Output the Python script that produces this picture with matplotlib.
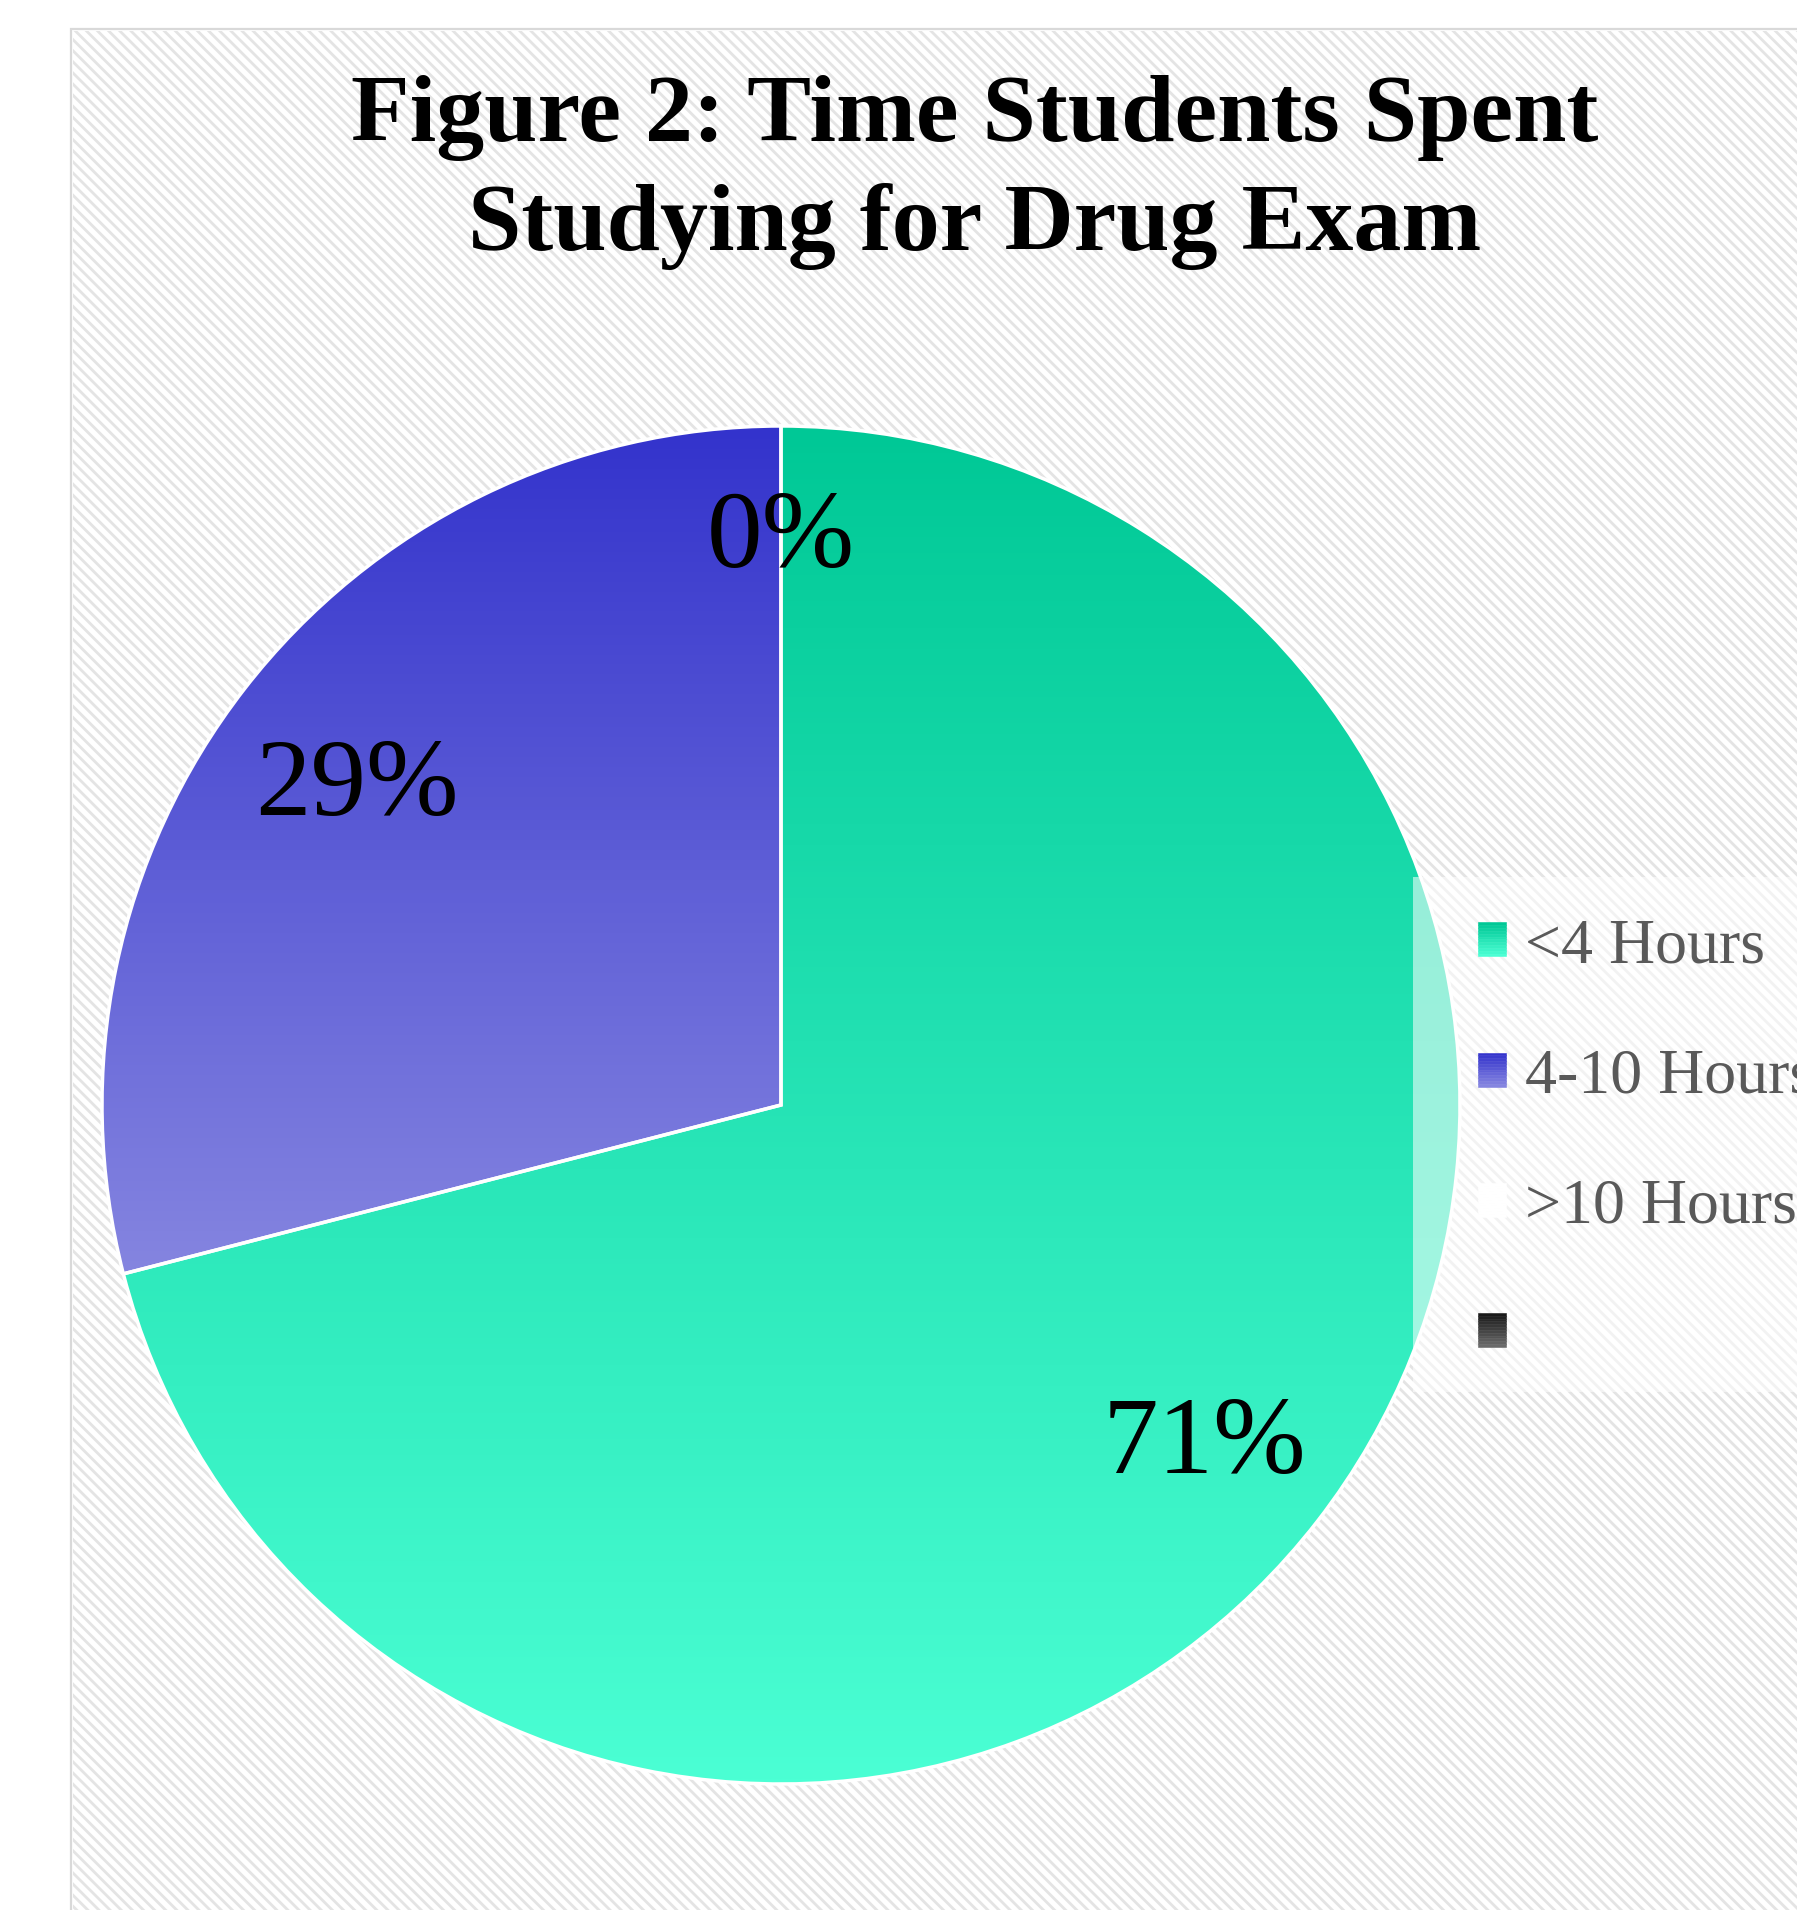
import numpy as np
import matplotlib
matplotlib.use("agg")
import matplotlib.pyplot as plt
from matplotlib.colors import LinearSegmentedColormap
from matplotlib.patches import Rectangle
from matplotlib.legend_handler import HandlerBase
from matplotlib.transforms import ScaledTranslation

# data
labels = ['<4 Hours', '4-10 Hours', '>10 Hours', ' ']
values = [71, 29, 0]
# gradient colours per category (top -> bottom)
top_colors = ['#00C896', '#3333CC', '#FFFFFF', '#1A1A1A']
bottom_colors = ['#4BFFD4', '#8585E0', '#FFFFFF', '#6A6A6A']

plt.rcParams['font.family'] = ['Liberation Serif', 'DejaVu Serif']
plt.rcParams['hatch.linewidth'] = 2.0

W, H = 1797, 1910


def fx(px):
    return px / W


def fy(py):
    return 1 - py / H


class GradientKey:
    def __init__(self, top, bottom):
        self.top = top
        self.bottom = bottom


class GradientHandler(HandlerBase):
    def create_artists(self, legend, orig_handle, xdescent, ydescent,
                       width, height, fontsize, trans):
        cmap = LinearSegmentedColormap.from_list('k', [orig_handle.top, orig_handle.bottom])
        n = 12
        arts = []
        for i in range(n):
            c = cmap(i / (n - 1))
            r = Rectangle((-xdescent, -ydescent + height * (1 - (i + 1) / n)),
                          width, height / n, facecolor=c, edgecolor=c,
                          linewidth=0.4, transform=trans)
            arts.append(r)
        return arts


fig = plt.figure(figsize=(W / 100, H / 100), dpi=100)

# chart area with diagonal hatch
area = Rectangle((fx(71), -0.01), 1.0, fy(29) + 0.01, transform=fig.transFigure,
                 facecolor='white', edgecolor='#d9d9d9', linewidth=1.6, zorder=-2)
fig.add_artist(area)
hatch = Rectangle((fx(73), -0.01), 1.0, fy(31) + 0.01, transform=fig.transFigure,
                  facecolor='none', edgecolor='#e4e4e4', linewidth=0,
                  hatch='\\\\\\', zorder=-1)
fig.add_artist(hatch)

# pie: centre (781, 1105) px, radius 679 px
lim = 1.02
side = 679 * lim
ax = fig.add_axes([fx(781 - side), fy(1105 + side), 2 * side / W, 2 * side / H])
wedges, texts, autotexts = ax.pie(values, startangle=90, counterclock=False,
                                  autopct='%1.0f%%', pctdistance=0.79,
                                  wedgeprops=dict(edgecolor='white', linewidth=2.5),
                                  textprops=dict(fontsize=80, color='black'))

grad = np.linspace(0, 1, 256).reshape(-1, 1)
for w, v, ct, cb in zip(wedges, values, top_colors, bottom_colors):
    if v == 0:
        continue
    ext = w.get_path().get_extents()
    cmap = LinearSegmentedColormap.from_list('g', [ct, cb])
    im = ax.imshow(grad, cmap=cmap, extent=(-1, 1, ext.y0, ext.y1),
                   aspect='auto', origin='upper', zorder=1.5)
    im.set_clip_path(w)
    w.set_facecolor('none')
    w.set_zorder(2)

# the 0% label sits a bit further out; all labels sit slightly lower
shift = ScaledTranslation(0, -0.12, fig.dpi_scale_trans)
for w, v, t in zip(wedges, values, autotexts):
    if v == 0:
        ang = np.deg2rad((w.theta1 + w.theta2) / 2)
        t.set_position((0.85 * np.cos(ang), 0.85 * np.sin(ang)))
    t.set_transform(ax.transData + shift)

ax.set_xlim(-lim, lim)
ax.set_ylim(-lim, lim)
ax.axis('off')

# legend panel
panel = Rectangle((fx(1413), fy(1392)), 1.0, (1392 - 877) / H, transform=fig.transFigure,
                  facecolor='white', alpha=0.55, edgecolor='none', zorder=4)
fig.add_artist(panel)

handles = [GradientKey(t, b) for t, b in zip(top_colors, bottom_colors)]
fig.legend(handles, labels, handler_map={GradientKey: GradientHandler()},
           loc='upper left', bbox_to_anchor=(fx(1413), fy(853)), frameon=False,
           fontsize=46, labelcolor='#595959', handlelength=0.44, handleheight=0.44,
           handletextpad=0.3, labelspacing=1.13, borderpad=1.02, borderaxespad=0)

# title
fig.text(fx(975), fy(141), 'Figure 2: Time Students Spent', ha='center', va='baseline',
         fontsize=69, fontweight='bold')
fig.text(fx(975), fy(250), 'Studying for Drug Exam', ha='center', va='baseline',
         fontsize=69, fontweight='bold')

fig.savefig('out.png', dpi=100)
